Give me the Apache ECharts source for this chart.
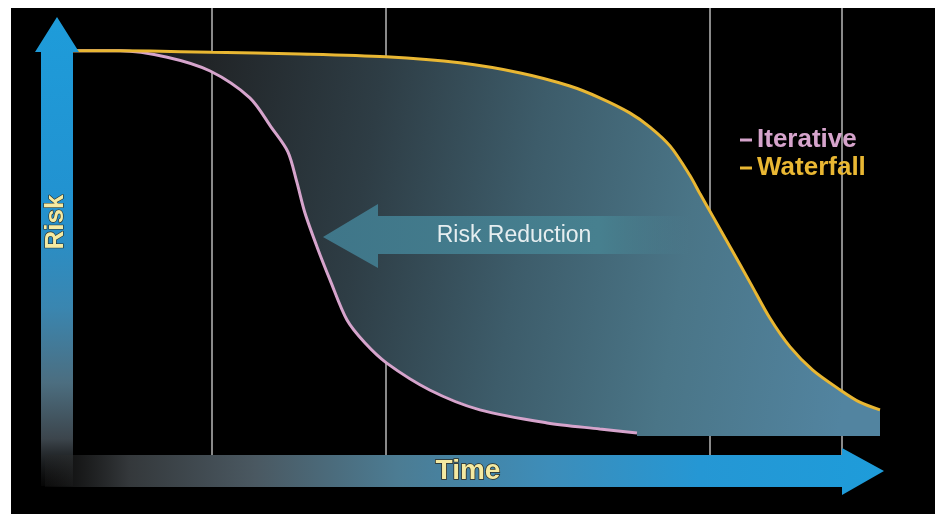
<!DOCTYPE html>
<html><head><meta charset="utf-8">
<script src="https://cdn.jsdelivr.net/npm/echarts@6/dist/echarts.min.js"></script>
<style>
html,body{margin:0;padding:0;background:#fff;}
#bg{position:absolute;left:11px;top:8px;width:924px;height:506px;background:#000;}
#chart{position:absolute;left:0;top:0;width:935px;height:516px;}
</style></head><body>
<div id="bg"></div><div id="chart"></div>
<script>
// ---- data (time in % of project span, risk in % of initial risk) ----
const seriesNames = ['Iterative', 'Waterfall'];
const iterativeTime = [0, 6.2, 12.0, 17.3, 22.2, 24.9, 26.9, 28.0, 29.0, 30.5, 32.1, 34.2, 36.4, 39.1, 44.4, 50.6, 58.9, 65.4, 70.0];
const iterativeRisk = [99.5, 99.5, 97.9, 94.5, 87.9, 80.5, 74.6, 67.2, 59.6, 51.2, 43.1, 33.2, 27.6, 22.6, 16.0, 11.1, 7.9, 6.4, 5.4];
const waterfallTime = [0, 9.9, 17.5, 28.4, 39.0, 48.1, 55.6, 61.7, 65.4, 69.1, 71.6, 74.1, 76.5, 77.8, 79.4, 81.5, 84.0, 86.4, 88.9, 91.7, 95.1, 97.5, 100];
const waterfallRisk = [99.5, 99.4, 99.1, 98.7, 98.0, 96.5, 94.0, 90.8, 87.9, 84.2, 80.7, 76.0, 68.9, 64.2, 58.6, 51.2, 42.3, 33.7, 26.6, 20.9, 16.0, 13.0, 11.1];
const residualRisk = 4.7;
const gridTimes = [17.5, 39.0, 79.0, 95.3];
const xAxisTitle = 'Time';
const yAxisTitle = 'Risk';
const arrowLabel = 'Risk Reduction';

const colors = { Iterative: '#d6a4cc', Waterfall: '#e9b733' };

const chart = echarts.init(document.getElementById('chart'), null, { renderer: 'canvas' });

const fillGradient = new echarts.graphic.LinearGradient(0, 0, 1, 0.35, [
  { offset: 0.0, color: '#121212' },
  { offset: 0.18, color: '#222629' },
  { offset: 0.38, color: '#2e3d45' },
  { offset: 0.58, color: '#3d5c6a' },
  { offset: 0.78, color: '#4a7587' },
  { offset: 1.0, color: '#5284a0' }
]);

const option = {
  animation: false,
  backgroundColor: 'transparent',
  grid: { left: 70, right: 55, top: 8, bottom: 61 },
  xAxis: { type: 'value', min: 0, max: 100, show: true,
    axisLine: { show: false }, axisTick: { show: false }, axisLabel: { show: false }, splitLine: { show: false } },
  yAxis: { type: 'value', min: 0, max: 110, show: true,
    axisLine: { show: false }, axisTick: { show: false }, axisLabel: { show: false }, splitLine: { show: false } },
  legend: {
    orient: 'vertical', left: 735, top: 122, itemGap: 2,
    icon: 'rect', itemWidth: 12, itemHeight: 3,
    data: seriesNames.map(n => ({ name: n, textStyle: { color: colors[n] } })),
    textStyle: { fontFamily: '"Liberation Sans", Arial, sans-serif', fontWeight: 'bold', fontSize: 26 }
  },
  series: [
    {
      name: 'grid', type: 'line', data: [], z: 1, silent: true,
      markLine: {
        z: 1, silent: true, symbol: ['none', 'none'], label: { show: false },
        lineStyle: { color: '#8a8a8a', width: 2, type: 'solid' },
        data: gridTimes.map(t => ({ xAxis: t }))
      }
    },
    {
      name: 'gap', type: 'custom', z: 3, silent: true,
      data: [[0, 0]],
      renderItem: function (params, api) {
        const pts = [];
        for (let i = 0; i < waterfallTime.length; i++) pts.push(api.coord([waterfallTime[i], waterfallRisk[i]]));
        pts.push(api.coord([waterfallTime[waterfallTime.length - 1], residualRisk]));
        pts.push(api.coord([iterativeTime[iterativeTime.length - 1], residualRisk]));
        for (let i = iterativeTime.length - 1; i >= 0; i--) pts.push(api.coord([iterativeTime[i], iterativeRisk[i]]));
        return { type: 'polygon', shape: { points: pts }, style: { fill: fillGradient } };
      }
    },
    {
      name: 'Iterative', type: 'line', z: 4, symbol: 'none', smooth: 0.3,
      data: iterativeTime.map((t, i) => [t, iterativeRisk[i]]),
      itemStyle: { color: colors.Iterative },
      lineStyle: { color: colors.Iterative, width: 3 }
    },
    {
      name: 'Waterfall', type: 'line', z: 4, symbol: 'none', smooth: 0.3,
      data: waterfallTime.map((t, i) => [t, waterfallRisk[i]]),
      itemStyle: { color: colors.Waterfall },
      lineStyle: { color: colors.Waterfall, width: 3 }
    }
  ],
  graphic: [
    {
      type: 'polygon', z: 5,
      shape: { points: [[57, 17], [79, 52], [73, 52], [73, 486], [41, 486], [41, 52], [35, 52]] },
      style: {
        fill: new echarts.graphic.LinearGradient(0, 0, 0, 1, [
          { offset: 0, color: '#1e9cda' },
          { offset: 0.4, color: '#2292d0' },
          { offset: 0.62, color: '#3a86b0' },
          { offset: 0.78, color: '#4c6e80' },
          { offset: 0.9, color: '#3c454c' },
          { offset: 1, color: 'rgba(30,30,30,0.2)' }
        ])
      }
    },
    {
      type: 'polygon', z: 5,
      shape: { points: [[45, 455], [842, 455], [842, 448], [884, 471], [842, 495], [842, 487], [45, 487]] },
      style: {
        fill: new echarts.graphic.LinearGradient(0, 0, 1, 0, [
          { offset: 0, color: 'rgba(40,40,40,0.2)' },
          { offset: 0.1, color: '#34383b' },
          { offset: 0.25, color: '#4a5861' },
          { offset: 0.42, color: '#4c7c93' },
          { offset: 0.6, color: '#3d8db9' },
          { offset: 0.78, color: '#2597d4' },
          { offset: 1, color: '#1e9cda' }
        ])
      }
    },
    {
      type: 'text', z: 6, x: 468, y: 471,
      style: {
        text: xAxisTitle, fill: '#f4eaa2', align: 'center', verticalAlign: 'middle',
        font: 'bold 28px "Liberation Sans", Arial, sans-serif',
        stroke: '#2a2a20', lineWidth: 1.5,
        shadowColor: 'rgba(0,0,0,0.8)', shadowBlur: 3, shadowOffsetX: 2, shadowOffsetY: 2
      }
    },
    {
      type: 'text', z: 6, x: 56, y: 222, rotation: Math.PI / 2,
      style: {
        text: yAxisTitle, fill: '#f4eaa2', align: 'center', verticalAlign: 'middle',
        font: 'bold 26px "Liberation Sans", Arial, sans-serif',
        stroke: '#2a2a20', lineWidth: 1.2,
        shadowColor: 'rgba(0,0,0,0.7)', shadowBlur: 3, shadowOffsetX: 2, shadowOffsetY: -2
      }
    },
    {
      type: 'polygon', z: 100,
      shape: { points: [[323, 237], [378, 204], [378, 216], [690, 216], [690, 254], [378, 254], [378, 268]] },
      style: {
        fill: new echarts.graphic.LinearGradient(0, 0, 1, 0, [
          { offset: 0, color: '#3f7689' },
          { offset: 0.75, color: '#47808f' },
          { offset: 1, color: 'rgba(74,128,145,0)' }
        ])
      }
    },
    {
      type: 'text', z: 101, x: 514, y: 236,
      style: {
        text: arrowLabel, fill: '#e6eef0', align: 'center', verticalAlign: 'middle',
        font: '23px "Liberation Sans", Arial, sans-serif'
      }
    }
  ]
};
chart.setOption(option);
</script>
</body></html>
